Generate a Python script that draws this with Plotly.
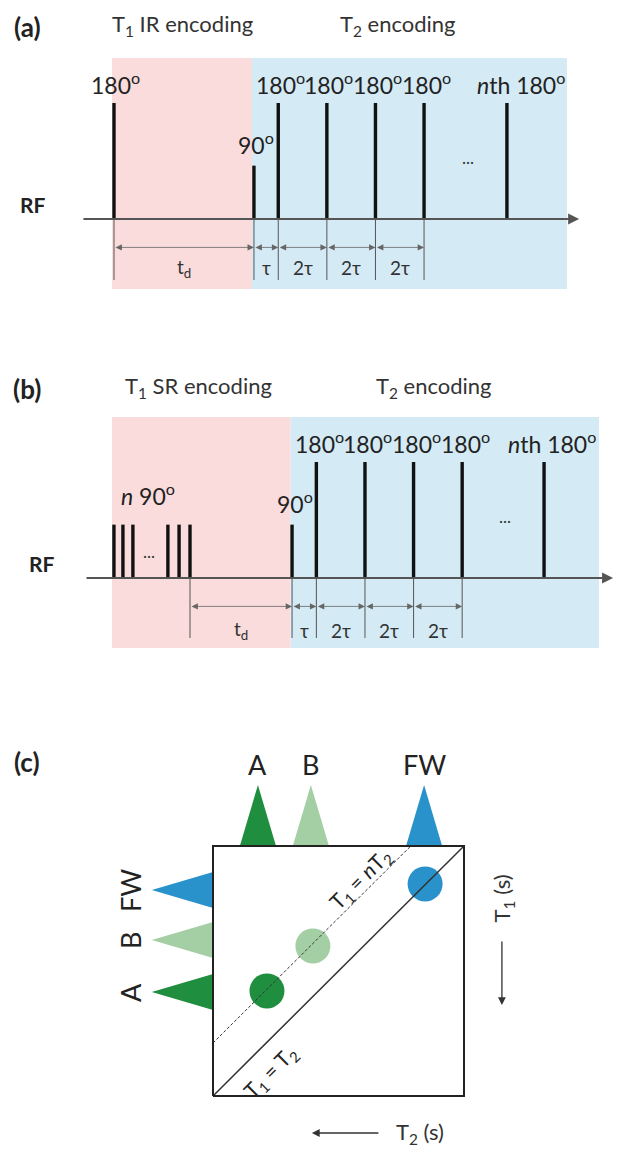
import plotly.graph_objects as go

# ---------------- data ----------------
# Panel (a): T1 inversion-recovery encoding + CPMG T2 encoding (time in units of tau)
A_PULSE_T = [0.0, 5.76, 6.76, 8.76, 10.76, 12.76, 16.17]
A_PULSE_AMP = [1.0, 0.46, 1.0, 1.0, 1.0, 1.0, 1.0]
A_PULSE_LABELS = ["180<sup>o</sup>", "90<sup>o</sup>", "180<sup>o</sup>", "180<sup>o</sup>",
                  "180<sup>o</sup>", "180<sup>o</sup>", "<i>n</i>th 180<sup>o</sup>"]
A_INTERVAL_EDGES = [0.0, 5.76, 6.76, 8.76, 10.76, 12.76]
A_INTERVAL_LABELS = ["t<sub>d</sub>", "τ", "2τ", "2τ", "2τ"]
A_TITLES = ["T<sub>1</sub> IR encoding", "T<sub>2</sub> encoding"]
A_TITLE_T = [2.8, 11.69]
A_REGIONS = [-0.08, 5.68, 18.64]          # pink start, pink/blue boundary, blue end

# Panel (b): T1 saturation-recovery encoding + CPMG T2 encoding
B_PULSE_T = [-3.13, -2.76, -2.35, -0.91, -0.45, 0.0, 4.2, 5.2, 7.2, 9.2, 11.2, 14.57]
B_PULSE_AMP = [0.46, 0.46, 0.46, 0.46, 0.46, 0.46, 0.46, 1.0, 1.0, 1.0, 1.0, 1.0]
B_PULSE_LABELS = ["", "", "", "", "", "", "90<sup>o</sup>", "180<sup>o</sup>", "180<sup>o</sup>",
                  "180<sup>o</sup>", "180<sup>o</sup>", "<i>n</i>th 180<sup>o</sup>"]
B_INTERVAL_EDGES = [0.0, 4.2, 5.2, 7.2, 9.2, 11.2]
B_INTERVAL_LABELS = ["t<sub>d</sub>", "τ", "2τ", "2τ", "2τ"]
B_TITLES = ["T<sub>1</sub> SR encoding", "T<sub>2</sub> encoding"]
B_TITLE_T = [0.37, 10.04]
B_REGIONS = [-3.21, 4.14, 16.83]

# Panel (c): schematic T1-T2 map (normalised axes)
COMPONENTS = ["A", "B", "FW"]
C_T2 = [0.215, 0.398, 0.845]
C_T1 = [0.42, 0.60, 0.848]
C_T2_MARGINAL = [0.179, 0.390, 0.841]
C_T1_MARGINAL = [0.416, 0.624, 0.824]
C_COLORS = ["#1f8e3e", "#a4cfa4", "#2a92cb"]
N_OFFSET = 0.212   # T1 = nT2 line offset

PINK = "#fadcdc"
BLUE = "#d4eaf4"
INK = "#222222"
FONT = "Lato, Noto Sans, sans-serif"

fig = go.Figure()
annotations = []
shapes = []


def text(x, y, s, xr, yr, size, angle=0, xshift=0, color=INK, xanchor="center"):
    annotations.append(dict(x=x, y=y, xref=xr, yref=yr, text=s, showarrow=False,
                            font=dict(family=FONT, size=size, color=color),
                            textangle=angle, xshift=xshift, xanchor=xanchor, yanchor="middle"))


def arrow(x, y, ax, ay, xr, yr, width=1.0, size=1.0, both=False, color="#444444"):
    d = dict(x=x, y=y, ax=ax, ay=ay, xref=xr, yref=yr, axref=xr, ayref=yr, text="",
             showarrow=True, arrowhead=2, arrowsize=size, arrowwidth=width,
             arrowcolor=color, standoff=0, startstandoff=0)
    if both:
        d.update(arrowside="end+start", startarrowhead=2, startarrowsize=size)
    annotations.append(d)


def sequence_panel(xa, ya, pulse_t, pulse_amp, labels, edges, ilabels, titles, title_t,
                   regions, axis_span, label_shift, nth_shift, dots_t, panel, panel_t,
                   rf_t, title_a, ilabel_a, ext_low):
    xr, yr = xa, ya
    # background regions
    shapes.append(dict(type="rect", xref=xr, yref=yr, x0=regions[0], x1=regions[1],
                       y0=-0.603, y1=1.388, fillcolor=PINK, line_width=0, layer="below"))
    shapes.append(dict(type="rect", xref=xr, yref=yr, x0=regions[1], x1=regions[2],
                       y0=-0.603, y1=1.388, fillcolor=BLUE, line_width=0, layer="below"))
    # time axis
    arrow(axis_span[1], 0, axis_span[0], 0, xr, yr, width=2, size=1.1, color="#555555")
    # pulses
    px, py = [], []
    for t, a in zip(pulse_t, pulse_amp):
        px += [t, t, None]
        py += [0, a, None]
    fig.add_trace(go.Scatter(x=px, y=py, mode="lines", xaxis=xa, yaxis=ya,
                             line=dict(color="#111111", width=3.4), hoverinfo="skip"))
    # pulse labels
    for i, (t, a, s) in enumerate(zip(pulse_t, pulse_amp, labels)):
        if not s:
            continue
        shift = nth_shift if i == len(pulse_t) - 1 else label_shift
        ya_ = a + 0.17 if a > 0.9 else a + 0.19
        text(t, ya_, s, xr, yr, 23, xshift=shift)
    # extension lines
    ex, ey = [], []
    for t in edges:
        ex += [t, t, None]
        ey += [0, ext_low, None]
    fig.add_trace(go.Scatter(x=ex, y=ey, mode="lines", xaxis=xa, yaxis=ya,
                             line=dict(color="#555555", width=1), hoverinfo="skip"))
    # interval arrows + labels
    for t0, t1, s in zip(edges[:-1], edges[1:], ilabels):
        arrow(t1, -0.245, t0, -0.245, xr, yr, width=0.8, size=1.6, both=True, color="#666666")
        text((t0 + t1) / 2, ilabel_a, s, xr, yr, 19, color="#333333")
    # titles
    for t, s in zip(title_t, titles):
        text(t, title_a, s, xr, yr, 22, color="#333333")
    text(panel_t, title_a - 0.02, "<b>" + panel + "</b>", xr, yr, 26)
    text(rf_t, 0.125, "<b>RF</b>", xr, yr, 21)
    text(dots_t, 0.53, "...", xr, yr, 17, color="#333333")


sequence_panel("x", "y", A_PULSE_T, A_PULSE_AMP, A_PULSE_LABELS, A_INTERVAL_EDGES,
               A_INTERVAL_LABELS, A_TITLES, A_TITLE_T, A_REGIONS, (-1.32, 19.14),
               2, 14, 14.57, "(a)", -3.58, -3.33, 1.675, -0.42, -0.526)

sequence_panel("x2", "y2", B_PULSE_T, B_PULSE_AMP, B_PULSE_LABELS, B_INTERVAL_EDGES,
               B_INTERVAL_LABELS, B_TITLES, B_TITLE_T, B_REGIONS, (-4.32, 17.41),
               3, 8, 12.96, "(b)", -6.71, -6.09, 1.647, -0.45, -0.517)
text(-1.73, 0.716, "<i>n</i> 90<sup>o</sup>", "x2", "y2", 23)
text(-1.69, 0.23, "...", "x2", "y2", 17, color="#333333")

# ---------------- panel (c) ----------------
H, W = 0.244, 0.072
# marginal T2 distributions (top) and T1 distributions (left)
for name, u, v, col in zip(COMPONENTS, C_T2_MARGINAL, C_T1_MARGINAL, C_COLORS):
    fig.add_trace(go.Scatter(x=[u - W, u, u + W, u - W], y=[1, 1 + H, 1, 1], fill="toself",
                             fillcolor=col, mode="lines", line=dict(width=0, color=col),
                             xaxis="x3", yaxis="y3", hoverinfo="skip"))
    fig.add_trace(go.Scatter(x=[0, -H, 0, 0], y=[v - W, v, v + W, v - W], fill="toself",
                             fillcolor=col, mode="lines", line=dict(width=0, color=col),
                             xaxis="x3", yaxis="y3", hoverinfo="skip"))
    text(u, 1.324, name, "x3", "y3", 27)
    text(-0.327, v, name, "x3", "y3", 27, angle=-90)

# peaks in the 2D map
fig.add_trace(go.Scatter(x=C_T2, y=C_T1, mode="markers", xaxis="x3", yaxis="y3",
                         marker=dict(size=35, color=C_COLORS, line=dict(width=0)),
                         hoverinfo="skip"))
# T1 = T2 and T1 = nT2 lines
fig.add_trace(go.Scatter(x=[0, 1], y=[0, 1], mode="lines", xaxis="x3", yaxis="y3",
                         line=dict(color="#333333", width=1.5), hoverinfo="skip"))
fig.add_trace(go.Scatter(x=[0, 1 - N_OFFSET], y=[N_OFFSET, 1], mode="lines", xaxis="x3", yaxis="y3",
                         line=dict(color="#333333", width=1, dash="3px,2px"), hoverinfo="skip"))
# frame
fig.add_trace(go.Scatter(x=[0, 1, 1, 0, 0], y=[0, 0, 1, 1, 0], mode="lines", xaxis="x3", yaxis="y3",
                         line=dict(color="#222222", width=2), hoverinfo="skip"))

text(0.590, 0.866, "T<sub>1</sub> = <i>n</i>T<sub>2</sub>", "x3", "y3", 21, angle=-45)
text(0.232, 0.094, "T<sub>1</sub> = T<sub>2</sub>", "x3", "y3", 21, angle=-45)
text(1.157, 0.792, "T<sub>1</sub> (s)", "x3", "y3", 22, angle=-90, color="#333333")
text(0.825, -0.148, "T<sub>2</sub> (s)", "x3", "y3", 22, color="#333333")
arrow(1.151, 0.364, 1.151, 0.624, "x3", "y3", width=1.3, size=1.2, color="#333333")
arrow(0.394, -0.148, 0.665, -0.148, "x3", "y3", width=1.3, size=1.2, color="#333333")
text(-0.741, 1.336, "<b>(c)</b>", "x3", "y3", 26)

ax_common = dict(visible=False, showgrid=False, zeroline=False, fixedrange=True)
fig.update_layout(
    width=619, height=1149, autosize=False,
    margin=dict(l=0, r=0, t=0, b=0, pad=0),
    paper_bgcolor="white", plot_bgcolor="white", showlegend=False,
    xaxis=dict(domain=[0, 1], range=[-4.691, 20.782], anchor="y", **ax_common),
    yaxis=dict(domain=[0.71279, 1], range=[-0.957, 1.888], anchor="x", **ax_common),
    xaxis2=dict(domain=[0, 1], range=[-7.819, 17.654], anchor="y2", **ax_common),
    yaxis2=dict(domain=[0.42559, 0.71279], range=[-0.707, 2.138], anchor="x2", **ax_common),
    xaxis3=dict(domain=[0, 1], range=[-0.8486, 1.6175], anchor="y3", **ax_common),
    yaxis3=dict(domain=[0, 0.42559], range=[-0.212, 1.744], anchor="x3", **ax_common),
    annotations=annotations, shapes=shapes,
)
fig.write_html("out.html", config={"displayModeBar": False},
               post_script="document.body.style.margin='0';document.body.style.padding='0';"
                           "document.body.style.overflow='hidden';")
